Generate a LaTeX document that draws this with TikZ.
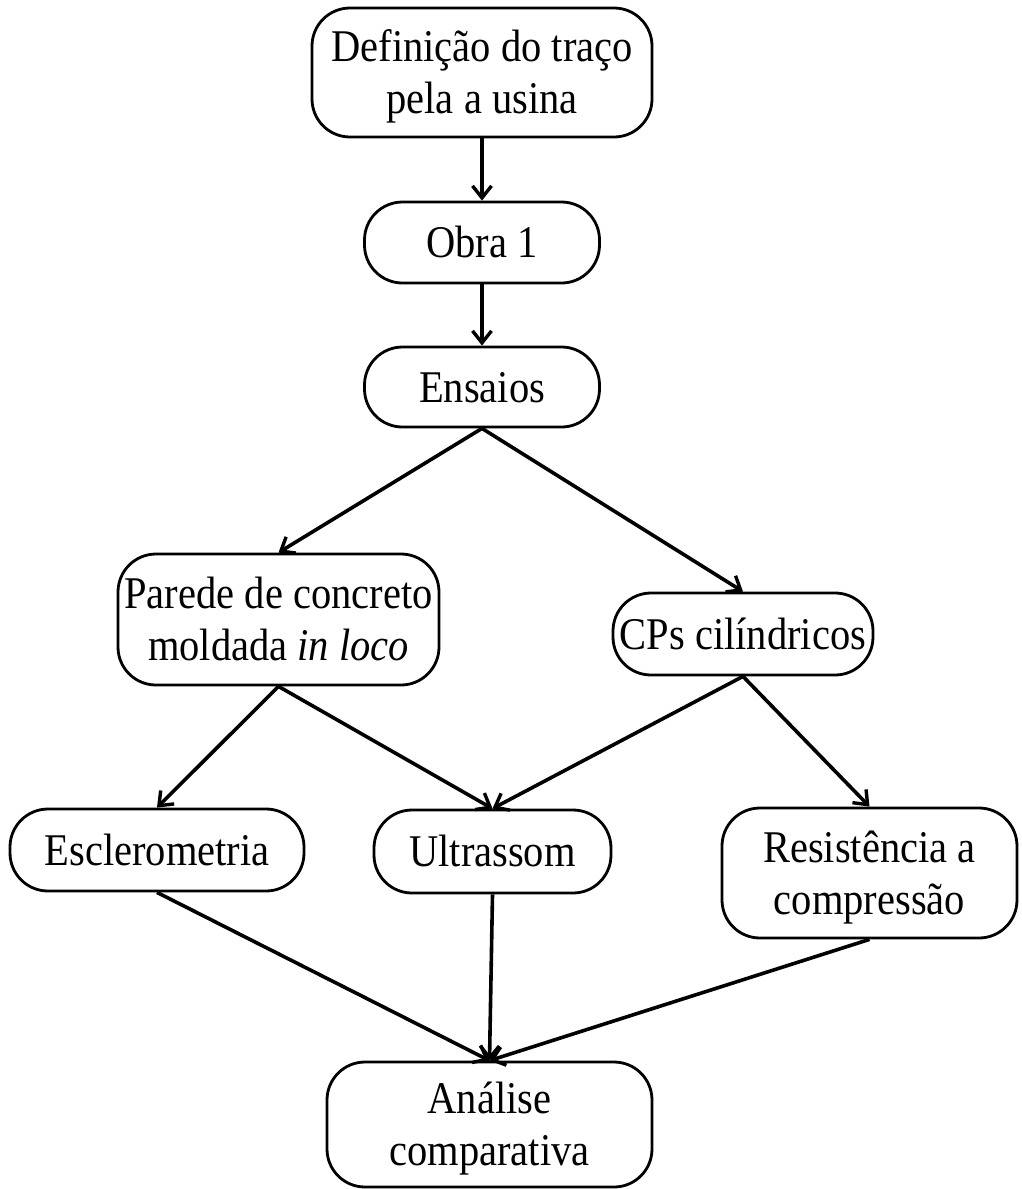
\documentclass[tikz,border=0pt]{standalone}
\usepackage{fontspec}
\usepackage{graphicx}
\setmainfont{Liberation Serif}
\usetikzlibrary{arrows.meta}
\newcommand\vtxt[1]{\raisebox{-5pt}[\height][\depth]{\scalebox{1}[1.12]{\begin{tabular}{@{}c@{}}#1\end{tabular}}}}
\begin{document}
\begin{tikzpicture}[x=1pt,y=-1pt,
  box/.style={draw=black,line width=2.8pt,rounded corners=38pt,align=center,
    inner sep=0pt,font=\fontsize{40.5}{46.5}\selectfont},
  conn/.style={line width=3.6pt,-{Straight Barb[length=12pt,width=19pt,line width=3.4pt]}}]
\useasboundingbox (0,0) rectangle (1021,1189);
\node[box,minimum width=340pt,minimum height=129pt] (b1) at (482,72.5) {\vtxt{Definição do traço\\pela a usina}};
\node[box,minimum width=235pt,minimum height=81pt] (b2) at (482,242.5) {\vtxt{Obra 1}};
\node[box,minimum width=235pt,minimum height=80pt] (b3) at (482,387) {\vtxt{Ensaios}};
\node[box,minimum width=321pt,minimum height=131pt] (b4) at (278.5,619.5) {\vtxt{Parede de concreto\\moldada \textit{in loco}}};
\node[box,minimum width=260pt,minimum height=82pt] (b5) at (743,634) {\vtxt{CPs cilíndricos}};
\node[box,minimum width=294pt,minimum height=82pt] (b6) at (157,850) {\vtxt{Esclerometria}};
\node[box,minimum width=237pt,minimum height=83pt] (b7) at (492.5,851.5) {\vtxt{Ultrassom}};
\node[box,minimum width=295pt,minimum height=130pt] (b8) at (869.5,873) {\vtxt{Resistência a\\compressão}};
\node[box,minimum width=325pt,minimum height=125pt] (b9) at (489.5,1124.5) {\vtxt{Análise\\comparativa}};
\draw[conn] (b1.south) -- (b2.north);
\draw[conn] (b2.south) -- (b3.north);
\draw[conn] (b3.south) -- (b4.north);
\draw[conn] (b3.south) -- (b5.north);
\draw[conn] (b4.south) -- (b6.north);
\draw[conn] (b4.south) -- (b7.north);
\draw[conn] (b5.south) -- (b7.north);
\draw[conn] (b5.south) -- (b8.north);
\draw[conn] (b6.south) -- (b9.north);
\draw[conn] (b7.south) -- (b9.north);
\draw[conn] (b8.south) -- (b9.north);
\end{tikzpicture}
\end{document}
